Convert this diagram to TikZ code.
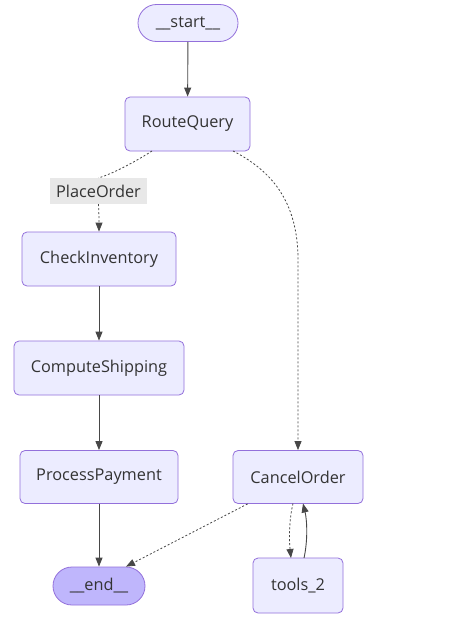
\documentclass[tikz,border=0pt]{standalone}
\usepackage{fontspec}
\setmainfont{Open Sans}
\usetikzlibrary{arrows.meta,shapes.misc}
\definecolor{nodefill}{HTML}{ECECFF}
\definecolor{nodeline}{HTML}{9370DB}
\definecolor{endfill}{HTML}{BFB6FC}
\definecolor{txt}{HTML}{333333}
\definecolor{lblfill}{HTML}{E8E8E8}
\begin{document}
\begin{tikzpicture}[x=1pt,y=-1pt,
  every node/.style={font=\fontsize{16.3}{19}\selectfont, text=txt},
  box/.style={draw=nodeline, fill=nodefill, rounded corners=5pt, line width=0.8pt, inner sep=0pt},
  pill/.style={draw=nodeline, fill=nodefill, rounded rectangle, line width=0.8pt, inner sep=0pt},
  lbl/.style={fill=lblfill, inner sep=0pt, text=txt},
  solidarrow/.style={draw=txt!90, line width=0.9pt, -{Triangle[length=9pt,width=7pt]}},
  dotarrow/.style={draw=txt!90, line width=0.8pt, dash pattern=on 2pt off 2pt, -{Triangle[length=9pt,width=7pt]}}
]
\useasboundingbox (0,0) rectangle (456,621);
\fill[white] (0,0) rectangle (456,621);
\node[pill, minimum width=100pt, minimum height=37pt] (start) at (188,23) {\_\_start\_\_};
\node[box, minimum width=125pt, minimum height=54pt] (route) at (187.5,124) {RouteQuery};
\node[box, minimum width=154pt, minimum height=54pt] (check) at (99,259) {CheckInventory};
\node[box, minimum width=170pt, minimum height=54pt] (ship) at (99,368) {ComputeShipping};
\node[box, minimum width=158pt, minimum height=53pt] (pay) at (99,477) {ProcessPayment};
\node[box, minimum width=130pt, minimum height=53pt] (cancel) at (298,477) {CancelOrder};
\node[pill, fill=endfill, minimum width=92pt, minimum height=38pt] (end) at (99,586) {\_\_end\_\_};
\node[box, minimum width=90pt, minimum height=55pt] (tools) at (298,585.5) {tools\_2};
\node[lbl, minimum width=97pt, minimum height=26pt] (po) at (98.5,191) {PlaceOrder};
\coordinate (rqa) at (152,151);
\coordinate (rqb) at (233,151);
\draw[solidarrow] (start) -- (route);
\draw[dotarrow, -] (rqa) .. controls (135,162) and (110,175) .. (po.north);
\draw[dotarrow] (po.south) .. controls (99,215) and (99,222) .. (check.north);
\draw[dotarrow] (rqb) .. controls (270,170) and (298,200) .. (298,260) -- (cancel.north);
\draw[solidarrow] (check) -- (ship);
\draw[solidarrow] (ship) -- (pay);
\draw[solidarrow] (pay) -- (end);
\draw[dotarrow] (cancel.south west) ++(15,0) coordinate (cw) -- (end.north east);
\coordinate (c1) at (293,503.5);
\coordinate (t1) at (291,558);
\coordinate (t2) at (304,558);
\coordinate (c2) at (303,503.5);
\draw[dotarrow] (c1) .. controls (289,520) and (289,540) .. (t1);
\draw[solidarrow] (t2) .. controls (308,540) and (307,520) .. (c2);
\end{tikzpicture}
\end{document}
